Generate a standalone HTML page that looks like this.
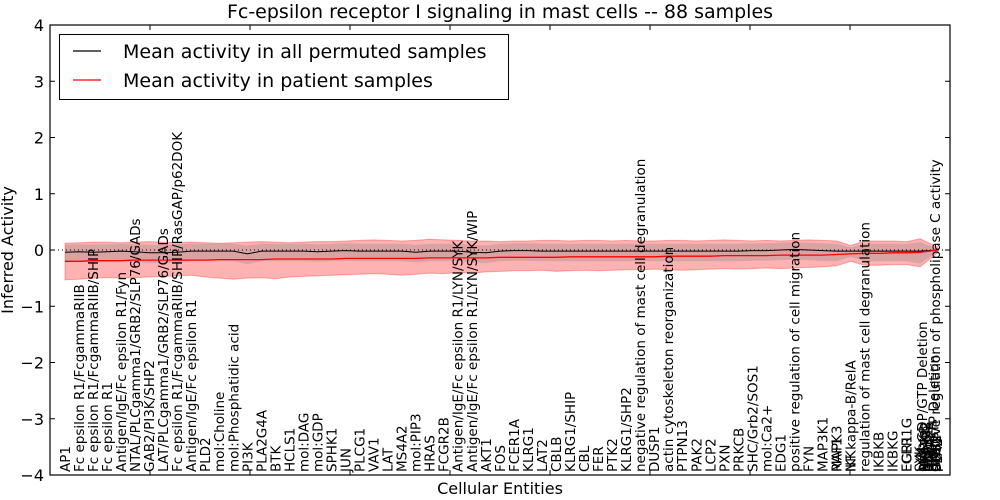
<!DOCTYPE html>
<html><head><meta charset="utf-8"><style>
html,body{margin:0;padding:0;background:#fff;}
svg{display:block;font-family:"DejaVu Sans","Liberation Sans",sans-serif;}
</style></head><body>
<svg id="chart" width="1000" height="500" viewBox="0 0 1000 500" xmlns="http://www.w3.org/2000/svg">
<rect x="0" y="0" width="1000" height="500" fill="#fff"/>
<text x="500" y="18" font-size="19" text-anchor="middle">Fc-epsilon receptor I signaling in mast cells -- 88 samples</text>
<g id="plot"></g>
<text x="500" y="494" font-size="16" text-anchor="middle">Cellular Entities</text>
<text transform="translate(13,250) rotate(-90)" font-size="16" text-anchor="middle">Inferred Activity</text>
<g>
<rect x="59.5" y="34.5" width="449" height="65" fill="#fff" stroke="#000" stroke-width="1"/>
<line x1="73" y1="51" x2="101" y2="51" stroke="#000" stroke-width="1.2"/>
<text x="123" y="58" font-size="19">Mean activity in all permuted samples</text>
<line x1="73" y1="80" x2="101" y2="80" stroke="#f00" stroke-width="1.2"/>
<text x="123" y="87" font-size="19">Mean activity in patient samples</text>
</g>
</svg>
<script>
const yTicks = [4, 3, 2, 1, 0, -1, -2, -3, -4];
const yTickLabels = ["4", "3", "2", "1", "0", "\u22121", "\u22122", "\u22123", "\u22124"];
const pointIdx = [0,1,2,3,4,5,6,7,8,9,10,11,12,13,14,15,16,17,18,19,20,21,22,23,24,25,26,27,28,29,30,31,32,33,34,35,36,37,38,39,40,41,42,43,44,45,46,47,48,49,50,51,52,53,54,55,56,57,58,59,60,60.95,62.2];
const blackMean = [-0.04,-0.03,-0.04,-0.03,-0.02,-0.03,-0.05,-0.05,-0.04,-0.02,-0.02,-0.02,-0.02,-0.07,-0.02,-0.02,-0.02,-0.02,-0.03,-0.02,-0.01,-0.02,-0.02,-0.02,-0.02,-0.04,-0.02,-0.02,-0.02,-0.04,-0.05,-0.02,-0.01,-0.01,-0.02,-0.02,-0.02,-0.02,-0.02,-0.02,-0.02,-0.02,-0.02,-0.02,-0.02,-0.02,-0.02,-0.02,-0.02,-0.01,-0.01,0.0,0.01,0.0,-0.01,-0.02,-0.02,-0.02,-0.02,-0.02,-0.02,-0.02,0.0];
const grayUpper = [0.09,0.1,0.1,0.1,0.11,0.1,0.09,0.09,0.1,0.11,0.11,0.11,0.11,0.08,0.11,0.11,0.11,0.11,0.1,0.11,0.12,0.11,0.11,0.11,0.11,0.09,0.11,0.11,0.11,0.09,0.08,0.11,0.12,0.12,0.11,0.11,0.11,0.11,0.11,0.11,0.11,0.11,0.11,0.11,0.11,0.11,0.11,0.11,0.11,0.12,0.12,0.13,0.14,0.13,0.12,0.11,0.05,0.11,0.11,0.11,0.11,0.14,0.02];
const grayLower = [-0.22,-0.21,-0.22,-0.21,-0.2,-0.21,-0.23,-0.23,-0.22,-0.2,-0.2,-0.2,-0.2,-0.25,-0.2,-0.2,-0.2,-0.2,-0.21,-0.2,-0.19,-0.2,-0.2,-0.2,-0.2,-0.22,-0.2,-0.2,-0.2,-0.22,-0.23,-0.2,-0.19,-0.19,-0.2,-0.2,-0.2,-0.2,-0.2,-0.2,-0.2,-0.2,-0.2,-0.2,-0.2,-0.2,-0.2,-0.2,-0.2,-0.19,-0.19,-0.18,-0.17,-0.18,-0.19,-0.2,-0.12,-0.2,-0.2,-0.2,-0.2,-0.24,-0.03];
const redMean = [-0.2,-0.2,-0.19,-0.19,-0.19,-0.18,-0.18,-0.18,-0.18,-0.18,-0.18,-0.17,-0.17,-0.17,-0.17,-0.16,-0.16,-0.16,-0.16,-0.16,-0.15,-0.15,-0.15,-0.15,-0.15,-0.15,-0.14,-0.14,-0.14,-0.14,-0.14,-0.13,-0.13,-0.13,-0.13,-0.13,-0.12,-0.12,-0.12,-0.12,-0.12,-0.12,-0.12,-0.11,-0.11,-0.11,-0.11,-0.1,-0.1,-0.1,-0.1,-0.09,-0.09,-0.09,-0.09,-0.08,-0.07,-0.06,-0.06,-0.05,-0.05,-0.04,0.0];
const redUpper = [0.12,0.13,0.14,0.14,0.13,0.14,0.15,0.14,0.13,0.14,0.13,0.12,0.13,0.14,0.15,0.14,0.13,0.14,0.15,0.15,0.16,0.17,0.18,0.17,0.16,0.17,0.19,0.18,0.17,0.16,0.16,0.15,0.16,0.16,0.17,0.17,0.16,0.17,0.17,0.16,0.17,0.16,0.16,0.17,0.17,0.16,0.17,0.18,0.17,0.16,0.17,0.16,0.17,0.18,0.17,0.16,0.08,0.16,0.16,0.16,0.15,0.2,0.05];
const redLower = [-0.53,-0.52,-0.5,-0.49,-0.5,-0.49,-0.48,-0.47,-0.46,-0.45,-0.48,-0.5,-0.52,-0.5,-0.49,-0.51,-0.48,-0.47,-0.46,-0.45,-0.44,-0.43,-0.42,-0.43,-0.45,-0.43,-0.41,-0.42,-0.4,-0.41,-0.39,-0.38,-0.37,-0.37,-0.36,-0.38,-0.37,-0.36,-0.37,-0.36,-0.35,-0.35,-0.34,-0.35,-0.36,-0.35,-0.34,-0.33,-0.34,-0.33,-0.32,-0.33,-0.32,-0.31,-0.3,-0.28,-0.2,-0.27,-0.27,-0.26,-0.26,-0.3,-0.05];
const categories = ["AP1","Fc epsilon R1/FcgammaRIIB","Fc epsilon R1/FcgammaRIIB/SHIP","Fc epsilon R1","Antigen/IgE/Fc epsilon R1/Fyn","NTAL/PLCgamma1/GRB2/SLP76/GADs","GAB2/PI3K/SHP2","LAT/PLCgamma1/GRB2/SLP76/GADs","Fc epsilon R1/FcgammaRIIB/SHIP/RasGAP/p62DOK","Antigen/IgE/Fc epsilon R1","PLD2","mol:Choline","mol:Phosphatidic acid","PI3K","PLA2G4A","BTK","HCLS1","mol:DAG","mol:GDP","SPHK1","JUN","PLCG1","VAV1","LAT","MS4A2","mol:PIP3","HRAS","FCGR2B","Antigen/IgE/Fc epsilon R1/LYN/SYK","Antigen/IgE/Fc epsilon R1/LYN/SYK/WIP","AKT1","FOS","FCER1A","KLRG1","LAT2","CBLB","KLRG1/SHIP","CBL","FER","PTK2","KLRG1/SHP2","negative regulation of mast cell degranulation","DUSP1","actin cytoskeleton reorganization","PTPN13","PAK2","LCP2","PXN","PRKCB","SHC/Grb2/SOS1","mol:Ca2+","EDG1","positive regulation of cell migration","FYN","MAP3K1","RAF1","MAPK3","NF kappa-B/RelA","IKK","regulation of mast cell degranulation","IKBKB","IKBKG","EGR1","FCER1G","SYK","LYN","mol:GDP/GTP Deletion","MAPK8","NFATC2","mol:IP3","PDPK1","RAC1","PPAP2A","ITK","mol:GTP Deletion","positive regulation of phospholipase C activity","GRB2","SOS1","PLA2"];
const categoryIdx = [0,1,2,3,4,5,6,7,8,9,10,11,12,13,14,15,16,17,18,19,20,21,22,23,24,25,26,27,28,29,30,31,32,33,34,35,36,37,38,39,40,41,42,43,44,45,46,47,48,49,50,51,52,53,54,55,55,56,56,57,58,59,60,60,60.9,61.0,61.1,61.2,61.3,61.4,61.5,61.6,61.7,61.8,61.9,62.0,62.05,62.1,62.15];

const X0 = 50, X1 = 950, Y0 = 25, Y1 = 475;
const NS = "http://www.w3.org/2000/svg";
function xs(i){ return 65 + i * 14.03; }
function ys(v){ return Y1 - (v - (-4)) / 8 * (Y1 - Y0); }
const plot = document.getElementById('plot');
function mk(tag, attrs){ const e = document.createElementNS(NS, tag); for (const k in attrs) e.setAttribute(k, attrs[k]); plot.appendChild(e); return e; }

function bandPath(up, lo){
  let d = '';
  for (let i = 0; i < pointIdx.length; i++) d += (i ? 'L' : 'M') + xs(pointIdx[i]).toFixed(1) + ',' + ys(up[i]).toFixed(1);
  for (let i = pointIdx.length - 1; i >= 0; i--) d += 'L' + xs(pointIdx[i]).toFixed(1) + ',' + ys(lo[i]).toFixed(1);
  return d + 'Z';
}
function linePath(arr){
  let d = '';
  for (let i = 0; i < pointIdx.length; i++) d += (i ? 'L' : 'M') + xs(pointIdx[i]).toFixed(1) + ',' + ys(arr[i]).toFixed(1);
  return d;
}

const redBand = mk('path', {d: bandPath(redUpper, redLower), fill: '#ff0000', 'fill-opacity': '0.3', stroke: '#ff0000', 'stroke-opacity': '0.3', 'stroke-width': '1'});


const grayBand = mk('path', {d: bandPath(grayUpper, grayLower), fill: '#808080', 'fill-opacity': '0.3', stroke: 'none'});



const zero = mk('line', {x1: X0, x2: X1, y1: ys(0), y2: ys(0), stroke: '#000', 'stroke-width': '1', 'stroke-dasharray': '1,3'});



const bl = mk('path', {d: linePath(blackMean), fill: 'none', stroke: '#000', 'stroke-width': '1'});


const rl = mk('path', {d: linePath(redMean), fill: 'none', stroke: '#f00', 'stroke-width': '1.3'});



for (let i = 0; i < categories.length; i++){
  const t = mk('text', {transform: 'translate(' + xs(categoryIdx[i]).toFixed(1) + ',472) rotate(-90)', 'font-size': '13.5', dy: '0.36em'});
  t.textContent = categories[i];
  
  
}

for (let i = 0; i < yTicks.length; i++){
  const y = ys(yTicks[i]);
  const tl = mk('line', {x1: X0, x2: X0 + 5, y1: y, y2: y, stroke: '#000'});
  
  
  const tr = mk('line', {x1: X1 - 5, x2: X1, y1: y, y2: y, stroke: '#000'});
  
  
  const lab = mk('text', {x: 44, y: y + 6, 'font-size': '16', 'text-anchor': 'end'});
  lab.textContent = yTickLabels[i];
  
  
}
for (let k = 1; k < 9; k++){
  const x = X0 + k * 100;
  const tt = mk('line', {x1: x, x2: x, y1: Y0, y2: Y0 + 5, stroke: '#000'});
  
  
  const tb = mk('line', {x1: x, x2: x, y1: Y1 - 5, y2: Y1, stroke: '#000'});
  
  
}
const frame = mk('rect', {x: X0, y: Y0, width: X1 - X0, height: Y1 - Y0, fill: 'none', stroke: '#000', 'stroke-width': '1.2'});


</script>
</body></html>
